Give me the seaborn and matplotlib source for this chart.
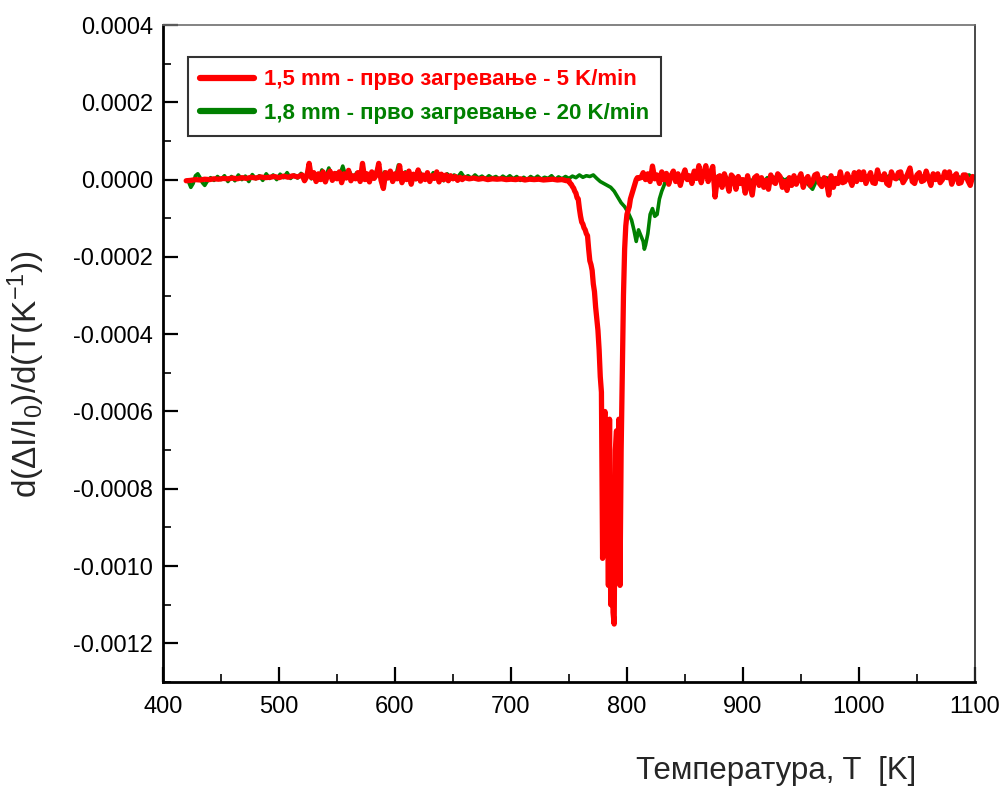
import numpy as np
import matplotlib
matplotlib.use("Agg")
import matplotlib.pyplot as plt
from matplotlib.ticker import MultipleLocator, FuncFormatter
import seaborn as sns

# ---------------- data (values in units of 1e-5 K^-1) ----------------
SCALE = 1e-5

red_T = [420, 424, 428, 432, 436, 440, 444, 448, 452, 456, 460, 464, 468, 472, 476, 480,
         484, 488, 492, 496, 500, 504, 508, 512, 516,
         520, 522, 524, 526, 528, 530, 532, 534, 536, 538, 540, 542, 544, 546, 548, 550,
         552, 554, 556, 558, 560, 562, 564, 566, 568, 570, 572, 574, 576, 578, 580, 582,
         584, 586, 588, 590, 592, 594, 596, 598, 600, 602, 604, 606, 608, 610, 612, 614,
         616, 618, 620, 622, 624, 626, 628, 630, 632, 634, 636, 638, 640, 642, 644, 646,
         648, 650, 652, 654, 656, 658, 660,
         664, 668, 672, 676, 680, 684, 688, 692, 696, 700, 704, 708, 712, 716, 720, 724,
         728, 732, 736, 740, 744, 748,
         750, 751, 752, 753, 754, 755, 756, 757, 758, 759, 760, 761, 762, 763, 764, 765,
         766, 767, 768, 769, 770, 771, 772, 773, 774, 775, 776, 777, 778, 779, 780, 781,
         782, 783, 784, 785, 786, 787, 788, 789, 790, 791, 792, 793, 794, 795, 796, 797,
         798, 799, 800, 801, 802, 803, 804, 805, 806, 807, 808, 809, 810,
         812, 814, 816, 818, 820, 822, 824, 826, 828, 830, 832, 834, 836, 838, 840, 842,
         844, 846, 848, 850, 852, 854, 856, 858, 860, 862, 864, 866, 868, 870, 872, 874,
         876, 878, 880, 882, 884, 886, 888, 890, 892, 894, 896, 898, 900, 902, 904, 906,
         908, 910, 912, 914, 916, 918, 920, 922, 924, 926, 928, 930, 932, 934, 936, 938,
         940, 942, 944, 946, 948, 950, 952, 954, 956, 958, 960, 962, 964, 966, 968, 970,
         972, 974, 976, 978, 980, 982, 984, 986, 988, 990, 992, 994, 996, 998, 1000, 1002,
         1004, 1006, 1008, 1010, 1012, 1014, 1016, 1018, 1020, 1022, 1024, 1026, 1028, 1030, 1032, 1034,
         1036, 1038, 1040, 1042, 1044, 1046, 1048, 1050, 1052, 1054, 1056, 1058, 1060, 1062, 1064, 1066,
         1068, 1070, 1072, 1074, 1076, 1078, 1080, 1082, 1084, 1086, 1088, 1090, 1092, 1094, 1096, 1098,
         1100]

red_v = [-0.3, -0.2, 0.0, -0.1, 0.1, 0.0, 0.2, 0.1, 0.3, 0.2, 0.4, 0.2, 0.5, 0.3, 0.6, 0.4,
         0.7, 0.5, 0.6, 0.8, 0.5, 0.9, 0.6, 1.0, 0.7,
         1.2, -0.3, 0.8, 4.2, 0.5, 1.8, -0.5, 1.5, 0.0, 2.0, -0.6, 1.2, 2.2, -0.2, 1.6, 0.2,
         2.0, -0.8, 1.5, 0.4, 2.4, -0.3, 1.0, 0.2, 1.8, -0.5, 4.2, 0.0, 1.5, -0.6, 2.0, 0.3,
         1.2, 4.2, -0.2, -2.3, 1.8, 0.4, 2.2, -0.5, 1.5, 0.2, 3.6, -0.8, 1.6, 0.0, 2.2, -1.2,
         1.4, 0.2, 2.5, -0.4, 1.2, 0.0, 1.8, -0.5, 1.0, 0.3, 2.0, -0.6, 1.4, 0.0, 1.2, -0.3,
         1.0, 0.2, 0.8, -0.2, 0.6, 0.0, 0.5,
         0.2, 0.4, 0.1, 0.3, 0.0, 0.2, 0.1, 0.2, 0.0, 0.1, 0.0, 0.2, -0.1, 0.1, 0.0, 0.1,
         -0.1, 0.0, 0.1, -0.1, 0.0, -0.3,
         -0.3, -1.0, -1.2, -1.8, -2.2, -3.0, -3.5, -4.7, -5.0, -7.5, -9.5, -11.0, -11.5, -12.5, -13.0, -14.0,
         -14.5, -18.0, -21.0, -22.0, -23.5, -27.0, -29.0, -33.0, -36.0, -39.0, -44.0, -51.0, -55.0, -98.0, -66.0, -60.0,
         -85.0, -75.0, -105.0, -62.0, -110.0, -80.0, -112.0, -115.0, -70.0, -65.0, -100.0, -62.0, -105.0, -70.0, -49.0, -30.0,
         -18.0, -12.0, -9.0, -8.0, -7.0, -5.0, -4.0, -3.0, -2.0, -1.0, 0.0, 0.5, 0.3,
         0.5, 1.8, 0.0, 1.5, -0.5, 3.5, 0.2, 1.2, -1.0, 2.0, 0.0, 1.6, -1.2, 1.0, 2.2, -0.5,
         1.5, -1.5, 0.8, 2.5, 0.0, 1.0, -1.0, 2.2, 0.3, 3.6, -0.8, 1.5, 3.6, -0.5, 1.8, 3.4,
         -4.5, 0.5, 1.0, -2.0, 1.5, -0.5, -3.0, 1.2, 0.5, -2.5, 0.8, -1.0, 0.0, -3.5, 1.0, -1.5,
         -4.0, 0.5, 1.0, -1.5, 0.5, -2.0, -0.2, -2.5, 1.2, -0.5, -1.0, 1.5, 0.8, -2.0, -0.5, -2.8,
         0.5, -1.5, 1.0, -1.2, 0.2, 1.5, -2.0, 0.0, 0.8, -1.5, -0.5, 1.2, 1.5, -1.0, -1.8, 0.5,
         -0.5, -4.0, 1.0, -2.0, 0.3, -1.0, 2.0, -0.8, -0.5, 1.5, 0.2, -1.5, 1.8, -0.5, 2.0, 0.0,
         2.0, -1.0, 0.5, 1.8, -0.8, -1.0, 2.5, 0.2, 0.0, 1.5, -1.0, -1.5, 2.0, 0.5, 0.2, 1.8,
         2.0, -0.8, 0.2, 1.5, 3.0, -0.5, -1.0, 1.2, 1.8, -0.5, -0.2, 2.2, 0.3, -1.5, 1.5, 0.0,
         1.5, -0.8, 0.0, 2.0, 0.5, 2.0, -1.2, 0.8, 1.5, -1.0, -0.8, 1.2, 1.2, -0.3, -1.5, 0.8,
         0.5]

green_T = [422, 424, 426, 428, 430, 432, 434, 436, 438, 441, 444, 447, 450, 453, 456, 459,
           462, 465, 468, 471, 474, 477, 480, 483, 486, 489, 492, 495, 498, 501, 504, 507,
           510, 513, 516, 519, 522, 525, 528, 531, 534, 537, 540, 543, 546, 549, 552, 555,
           558, 561, 564, 567, 570, 573, 576, 579, 582, 585, 588, 591, 594, 597, 600, 603,
           606, 609, 612, 615, 618, 621, 624, 627, 630, 633, 636, 639, 642, 645, 648, 651,
           654, 657, 660, 663, 666, 669, 672, 675, 678, 681, 684, 687, 690, 693, 696, 699,
           702, 705, 708, 711, 714, 717, 720, 723, 726, 729, 732, 735, 738, 741, 744, 747,
           750, 753, 756, 759, 762, 765, 768, 771, 774, 777, 780, 783, 786, 789, 792, 795,
           798, 801, 804, 806, 808, 810, 812, 814, 815, 816, 818, 820, 822, 824, 826, 828,
           830, 832, 834, 837, 840, 843, 846, 849, 852, 855, 858, 861, 864, 867, 870, 873,
           876, 879, 882, 885, 888, 891, 894, 897, 900, 903, 906, 909, 912, 915, 918, 921,
           924, 927, 930, 933, 936, 939, 942, 945, 948, 951, 954, 957, 960, 963, 966, 969,
           972, 975, 978, 981, 984, 987, 990, 993, 996, 999, 1002, 1005, 1008, 1011, 1014, 1017,
           1020, 1023, 1026, 1029, 1032, 1035, 1038, 1041, 1044, 1047, 1050, 1053, 1056, 1059, 1062, 1065,
           1068, 1071, 1074, 1077, 1080, 1083, 1086, 1089, 1092, 1095, 1098, 1100]

green_v = [-0.5, -2.0, -1.0, 1.0, 1.5, 0.5, -0.8, -1.5, -0.5, 0.5, -0.2, 0.8, 0.0, 1.0, -0.5, 0.8,
           -0.3, 1.2, 0.0, 0.9, -0.5, 1.3, 0.2, 1.0, -0.2, 1.5, 0.3, 1.2, 0.0, 1.4, 0.5, 1.8,
           0.3, 1.2, 0.4, 1.6, 0.5, 2.0, 0.2, 1.5, -0.2, 2.5, 0.5, 3.0, 0.3, 1.8, 0.8, 3.5,
           0.5, 2.0, 0.2, 1.8, 0.6, 2.5, 0.0, 1.5, 0.8, 3.0, 0.3, 2.0, 0.5, 1.5, 0.0, 3.8,
           0.5, 2.0, 0.3, 1.5, 0.0, 2.2, 0.5, 1.3, 0.2, 1.8, 0.3, 1.0, -0.3, 1.5, 0.4, 1.2,
           0.6, 1.8, 0.5, 1.0, 0.3, 1.2, 0.4, 0.9, 0.2, 1.0, 0.4, 0.8, 0.1, 0.9, 0.3, 1.0,
           0.2, 0.8, -0.2, 0.6, 0.0, 0.8, 0.2, 0.9, 0.1, 0.6, 0.3, 1.0, 0.0, 0.7, 0.2, 0.8,
           0.3, 0.9, 0.5, 1.2, 0.6, 1.0, 0.8, 1.2, 0.3, -0.5, -1.0, -1.5, -2.0, -3.0, -4.5, -6.0,
           -7.0, -8.5, -10.5, -13.0, -16.0, -13.0, -14.5, -16.0, -18.0, -17.0, -14.0, -9.0, -7.5, -9.5, -9.0, -5.0,
           -3.0, -1.5, 0.5, 0.8, 0.3, 1.0, 0.5, 1.2, 0.3, 0.8, 0.5, 1.2, 0.6, 1.5, 0.8, 1.5,
           0.5, 1.0, 0.3, 0.8, 0.0, 0.5, -0.5, 0.3, -0.8, 0.0, -1.0, 0.2, -0.8, 0.3, -0.5, 0.5,
           -0.3, 0.6, 0.0, 0.5, -0.2, 0.4, 0.0, 0.6, -0.3, 0.5, -0.5, -1.5, -2.5, -0.5, 0.3, 0.0,
           0.5, -0.2, 0.4, 0.0, 0.6, 0.1, 0.5, 0.0, 0.6, 0.2, 0.8, 0.3, 0.7, 0.2, 0.9, 0.4,
           0.8, 0.3, 1.0, 0.4, 0.8, 0.2, 0.9, 0.5, 1.0, 0.3, 0.8, 0.5, 1.0, 0.4, 0.8, 0.2,
           0.9, 0.5, 1.0, 0.3, 0.8, 0.2, 0.7, 0.4, 0.9, 1.2, 0.5, 0.8]

red_label = "1,5 mm - прво загревање - 5 K/min"
green_label = "1,8 mm - прво загревање - 20 K/min"
x_label = "Температура, T  [K]"
y_label = r"d(ΔI/I$_0$)/d(T(K$^{-1}$))"

# ---------------- style ----------------
sns.set_style("ticks")
plt.rcParams["font.family"] = ["Liberation Sans", "DejaVu Sans"]
plt.rcParams["mathtext.fontset"] = "custom"
plt.rcParams["mathtext.rm"] = "Liberation Sans"
plt.rcParams["mathtext.it"] = "Liberation Sans"
plt.rcParams["mathtext.bf"] = "Liberation Sans:bold"

fig = plt.figure(figsize=(10.03, 7.89), dpi=100)
ax = fig.add_axes([0.1625, 0.1356, 0.8095, 0.8327])

sns.lineplot(x=np.array(green_T), y=np.array(green_v) * SCALE, color="#008000",
             linewidth=2.6, label=green_label, ax=ax, estimator=None, sort=False)
sns.lineplot(x=np.array(red_T), y=np.array(red_v) * SCALE, color="#ff0000",
             linewidth=3.8, label=red_label, ax=ax, estimator=None, sort=False)

ax.set_xlim(400, 1100)
ax.set_ylim(-0.0013, 0.0004)

ax.xaxis.set_major_locator(MultipleLocator(100))
ax.xaxis.set_minor_locator(MultipleLocator(50))
ax.yaxis.set_major_locator(MultipleLocator(0.0002))
ax.yaxis.set_minor_locator(MultipleLocator(0.0001))
ax.yaxis.set_major_formatter(FuncFormatter(lambda v, p: f"{v:.4f}".replace("-0.0000", "0.0000")))

ax.tick_params(axis="both", which="major", direction="in", length=11, width=1.6,
               labelsize=17, colors="black", top=False, right=False)
ax.tick_params(axis="both", which="minor", direction="in", length=6, width=1.4,
               top=False, right=False)
ax.tick_params(axis="x", which="major", pad=10)
ax.tick_params(axis="y", which="major", pad=7)

for side in ["left", "bottom"]:
    ax.spines[side].set_linewidth(2.0)
    ax.spines[side].set_color("black")
ax.spines["top"].set_linewidth(1.2)
ax.spines["top"].set_color("#6e6e6e")
ax.spines["right"].set_linewidth(1.2)
ax.spines["right"].set_color("#2a2a2a")

ax.set_xlabel(x_label, fontsize=22.5)
ax.xaxis.set_label_coords(0.755, -0.113)
ax.set_ylabel(y_label, fontsize=24)
ax.yaxis.set_label_coords(-0.143, 0.468)

handles, labels = ax.get_legend_handles_labels()
order = [1, 0]
leg = ax.legend([handles[i] for i in order], [labels[i] for i in order],
                loc="upper left", bbox_to_anchor=(0.031, 0.951), fontsize=16,
                frameon=True, fancybox=False, edgecolor="black", handlelength=2.4,
                handletextpad=0.45, borderpad=0.55, labelspacing=0.55, borderaxespad=0)
leg.get_frame().set_linewidth(1.5)
for txt, col in zip(leg.get_texts(), ["#ff0000", "#008000"]):
    txt.set_color(col)
    txt.set_fontweight("bold")
for lh in leg.get_lines():
    lh.set_linewidth(4.5)

fig.savefig("out.png", dpi=100)
